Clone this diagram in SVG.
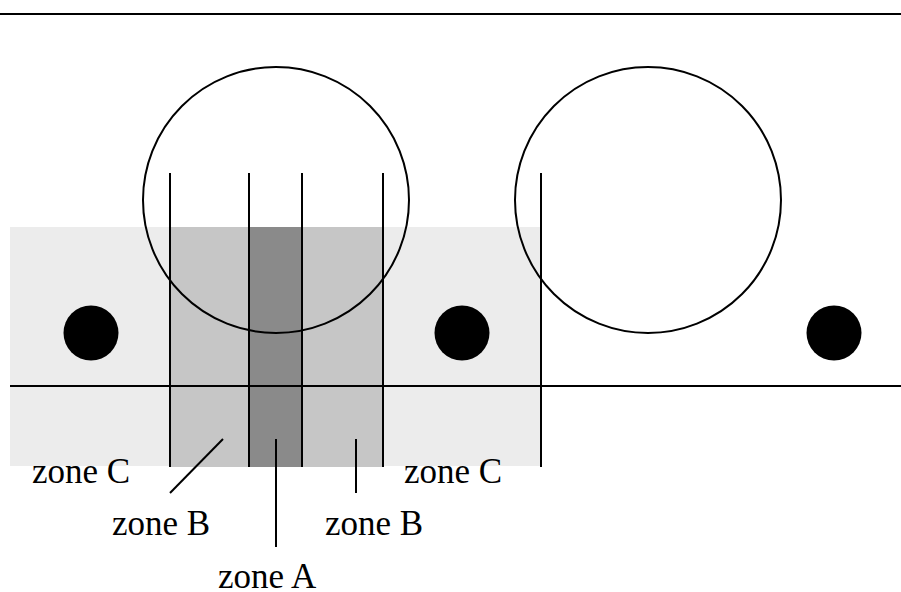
<svg xmlns="http://www.w3.org/2000/svg" width="901" height="592" viewBox="0 0 901 592">
<style>
.ln{stroke:#000;stroke-width:2;fill:none}
.dot{fill:#000}
.t{font-family:"Liberation Serif",serif;font-size:35px;fill:#000}
</style>
<rect width="901" height="592" fill="#fff"/>
<g id="zones">
<rect id="zoneC" x="10" y="227" width="531" height="239" fill="#ececec"/>
<rect id="zoneB" x="170" y="227" width="213" height="240" fill="#c6c6c6"/>
<rect id="zoneA" x="249" y="227" width="53" height="240" fill="#8a8a8a"/>
</g>
<g id="circles">
<circle id="circle1" class="ln" cx="276" cy="200" r="133"/>
<circle id="circle2" class="ln" cx="648" cy="200" r="133"/>
</g>
<g id="dots">
<circle id="dot1" class="dot" cx="91" cy="333" r="27.5"/>
<circle id="dot2" class="dot" cx="462" cy="333" r="27.5"/>
<circle id="dot3" class="dot" cx="834" cy="333" r="27.5"/>
</g>
<g id="connectors">
<line class="ln" x1="0" y1="14" x2="901" y2="14"/>
<line class="ln" x1="10" y1="386" x2="901" y2="386"/>
<line class="ln" x1="170" y1="173" x2="170" y2="467"/>
<line class="ln" x1="249" y1="173" x2="249" y2="467"/>
<line class="ln" x1="302" y1="173" x2="302" y2="467"/>
<line class="ln" x1="383" y1="173" x2="383" y2="467"/>
<line class="ln" x1="541" y1="173" x2="541" y2="467"/>
<line class="ln" x1="223" y1="439" x2="170" y2="493"/>
<line class="ln" x1="276" y1="439" x2="276" y2="547"/>
<line class="ln" x1="356" y1="439" x2="356" y2="493"/>
</g>
<g id="labels">
<text class="t" x="32" y="483">zone C</text>
<text class="t" x="404" y="483">zone C</text>
<text class="t" x="112" y="535">zone B</text>
<text class="t" x="325" y="535">zone B</text>
<text class="t" x="218" y="588">zone A</text>
</g>
</svg>
